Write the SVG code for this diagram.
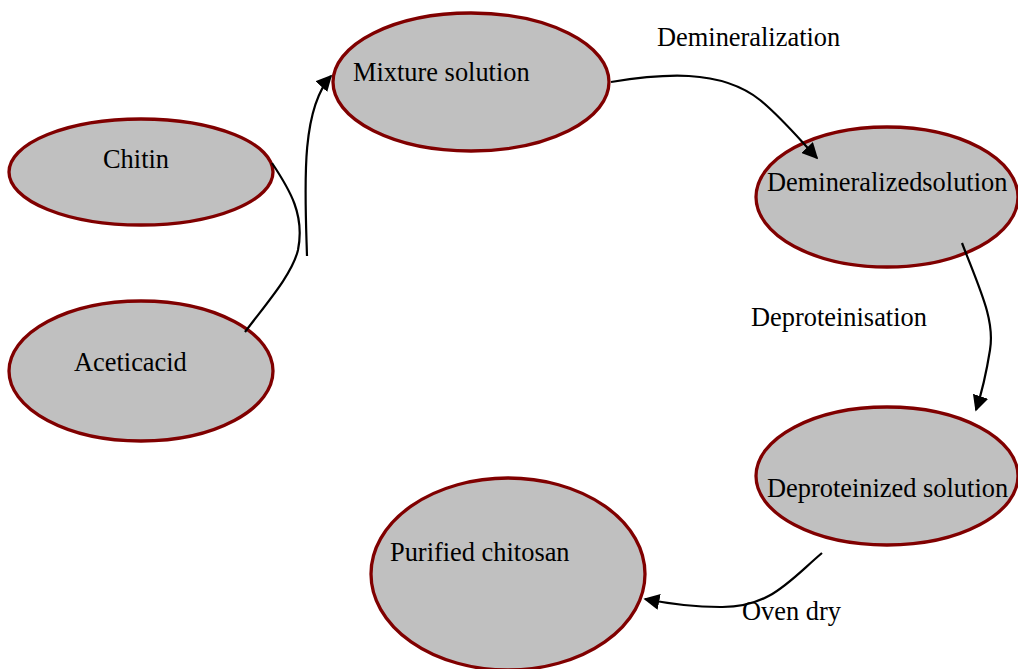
<svg xmlns="http://www.w3.org/2000/svg" width="1018" height="669" viewBox="0 0 1018 669">
<style>
.node ellipse{fill:#c0c0c0;stroke:#800000;stroke-width:3.3}
text{font-family:"Liberation Serif","Times New Roman",serif;font-size:26.4px;fill:#000}
.conn path{fill:none;stroke:#000;stroke-width:2.2}
</style>
<defs>
<marker id="ah2" viewBox="0 0 10 10" refX="9" refY="5" markerWidth="16" markerHeight="16" markerUnits="userSpaceOnUse" orient="auto">
<path d="M0,0 L10,5 L0,10 Z" fill="#000"/>
</marker>
</defs>
<rect width="1018" height="669" fill="#fff"/>
<g id="chitin" class="node"><ellipse cx="141" cy="172" rx="132" ry="53"/><text x="103" y="168">Chitin</text></g>
<g id="acetic" class="node"><ellipse cx="141" cy="371" rx="132" ry="70"/><text x="74" y="371">Aceticacid</text></g>
<g id="mixture" class="node"><ellipse cx="471" cy="82" rx="138" ry="69"/><text x="353" y="81">Mixture solution</text></g>
<g id="demineralized" class="node"><ellipse cx="887" cy="197" rx="131" ry="70"/><text x="767" y="191">Demineralizedsolution</text></g>
<g id="deproteinized" class="node"><ellipse cx="887" cy="476" rx="131" ry="69"/><text x="767" y="497">Deproteinized solution</text></g>
<g id="purified" class="node"><ellipse cx="508" cy="574" rx="137" ry="96"/><text x="390" y="561">Purified chitosan</text></g>
<g id="connectors" class="conn">
<path d="M272,163 C290,190 305,215 298,250 C292,275 265,305 245,332"/>
<path d="M307,256 C305,190 300,110 331,76" marker-end="url(#ah2)"/>
<path d="M611,82 C660,74 720,68 760,100 C782,118 800,140 817,158" marker-end="url(#ah2)"/>
<path d="M962,243 C980,290 995,320 990,350 C986,375 981,395 976,410" marker-end="url(#ah2)"/>
<path d="M822,553 C790,580 770,608 720,607 C690,607 665,603 645,599" marker-end="url(#ah2)"/>
</g>
<g id="labels">
<text x="657" y="46">Demineralization</text>
<text x="751" y="326">Deproteinisation</text>
<text x="742" y="620">Oven dry</text>
</g>
</svg>
